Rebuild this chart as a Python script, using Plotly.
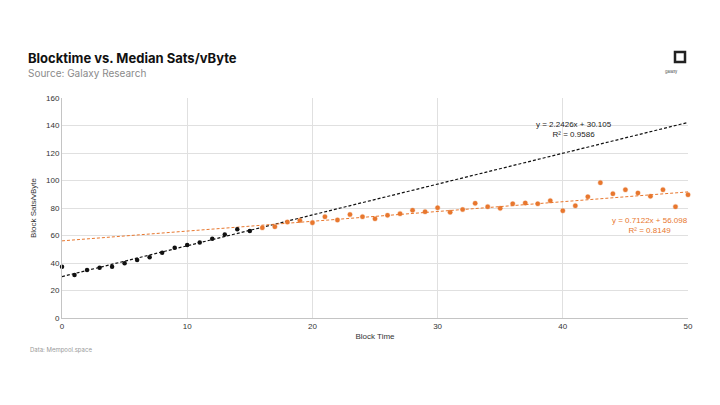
import plotly.graph_objects as go

# early blocks (black) and later blocks (orange)
time_early = list(range(0, 16))
sats_early = [37.3, 31.3, 34.9, 36.6, 37.3, 39.8, 42.2, 44.1, 47.5, 51.1,
              53.1, 55.0, 57.7, 60.8, 64.5, 63.3]

time_late = list(range(16, 51))
sats_late = [65.7, 66.4, 69.8, 71.0, 69.3, 73.7, 71.3, 75.2, 73.7, 72.2,
             74.7, 75.9, 78.3, 77.3, 80.2, 76.9, 78.9, 83.4, 81.0, 79.8,
             83.1, 83.6, 83.1, 85.3, 78.0, 81.7, 88.2, 98.4, 90.4, 93.3,
             90.9, 88.5, 93.3, 81.0, 89.7]

# linear trendlines as printed on the chart
fit_early = (2.2426, 30.105, 0.9586)
fit_late = (0.7122, 56.098, 0.8149)
fit_x = [0, 50]

black = "#111111"
orange = "#e8772e"

fig = go.Figure()

fig.add_trace(go.Scatter(
    x=fit_x, y=[fit_early[0] * v + fit_early[1] for v in fit_x],
    mode="lines", line=dict(color=black, width=1.2, dash="3px,2px"),
    hoverinfo="skip"))
fig.add_trace(go.Scatter(
    x=fit_x, y=[fit_late[0] * v + fit_late[1] for v in fit_x],
    mode="lines", line=dict(color=orange, width=1, dash="3px,2px"),
    hoverinfo="skip"))

fig.add_trace(go.Scatter(
    x=time_early, y=sats_early, mode="markers",
    marker=dict(color=black, size=4.5), cliponaxis=False))
fig.add_trace(go.Scatter(
    x=time_late, y=sats_late, mode="markers",
    marker=dict(color=orange, size=4.5, line=dict(color="rgba(232,119,46,0.3)", width=1.2)),
    cliponaxis=False))

fig.add_annotation(x=40.9, y=137, xref="x", yref="y",
                   text="y = 2.2426x + 30.105<br>R² = 0.9586",
                   showarrow=False, align="center",
                   font=dict(family="Liberation Sans", size=8, color="#222222"))
fig.add_annotation(x=47.0, y=67.5, xref="x", yref="y",
                   text="y = 0.7122x + 56.098<br>R² = 0.8149",
                   showarrow=False, align="center",
                   font=dict(family="Liberation Sans", size=8, color=orange))

# the page sits 8px in from the window corner, so work in window pixels minus 8
OFF = 8
W, H = 720 - OFF, 405 - OFF
L, R, T, B = 62 - OFF, 32, 98 - OFF, 87
pw, ph = W - L - R, H - T - B


def px(x, y):
    return (x - OFF - L) / pw, 1 - (y - OFF - T) / ph


# title block
tx, ty = px(26, 58)
fig.add_annotation(x=tx, y=ty, xref="paper", yref="paper", text="<b>Blocktime vs. Median Sats/vByte</b>",
                   showarrow=False, xanchor="left", yanchor="middle",
                   font=dict(family="Inter", size=13, color="#111111"))
sx, sy = px(26, 73)
fig.add_annotation(x=sx, y=sy, xref="paper", yref="paper", text="Source: Galaxy Research",
                   showarrow=False, xanchor="left", yanchor="middle",
                   font=dict(family="Inter", size=10, color="#8a8a8a"))
fx, fy = px(28, 350)
fig.add_annotation(x=fx, y=fy, xref="paper", yref="paper", text="Data: Mempool.space",
                   showarrow=False, xanchor="left", yanchor="middle",
                   font=dict(family="Inter", size=6, color="#9a9a9a"))

# galaxy logo
x0, y0 = px(675, 52)
x1, y1 = px(685, 62)
fig.add_shape(type="rect", xref="paper", yref="paper", x0=x0, y0=y0, x1=x1, y1=y1,
              line=dict(color="#222222", width=2.5), fillcolor="white")
lx, ly = px(680, 67)
fig.add_annotation(x=lx, y=ly, xref="paper", yref="paper", text="galaxy",
                   showarrow=False, font=dict(family="Inter", size=4, color="#444444"))

fig.update_layout(
    width=W, height=H,
    margin=dict(l=L, r=R, t=T, b=B),
    paper_bgcolor="white", plot_bgcolor="white",
    showlegend=False,
    font=dict(family="Liberation Sans", size=8, color="#333333"),
)
fig.update_xaxes(range=[0, 50], dtick=10, showgrid=True, gridcolor="#e0e0e0", gridwidth=1,
                 zeroline=False, showline=True, linecolor="#c4c4c4",
                 ticks="", tickfont=dict(size=8),
                 title=dict(text="Block Time", font=dict(size=8), standoff=3))
fig.update_yaxes(range=[0, 160], dtick=20, showgrid=True, gridcolor="#e0e0e0", gridwidth=1,
                 zeroline=False, showline=True, linecolor="#c4c4c4",
                 ticks="", tickfont=dict(size=8),
                 title=dict(text="Block Sats/vByte", font=dict(size=8), standoff=8))

fig.write_html("out.html")
